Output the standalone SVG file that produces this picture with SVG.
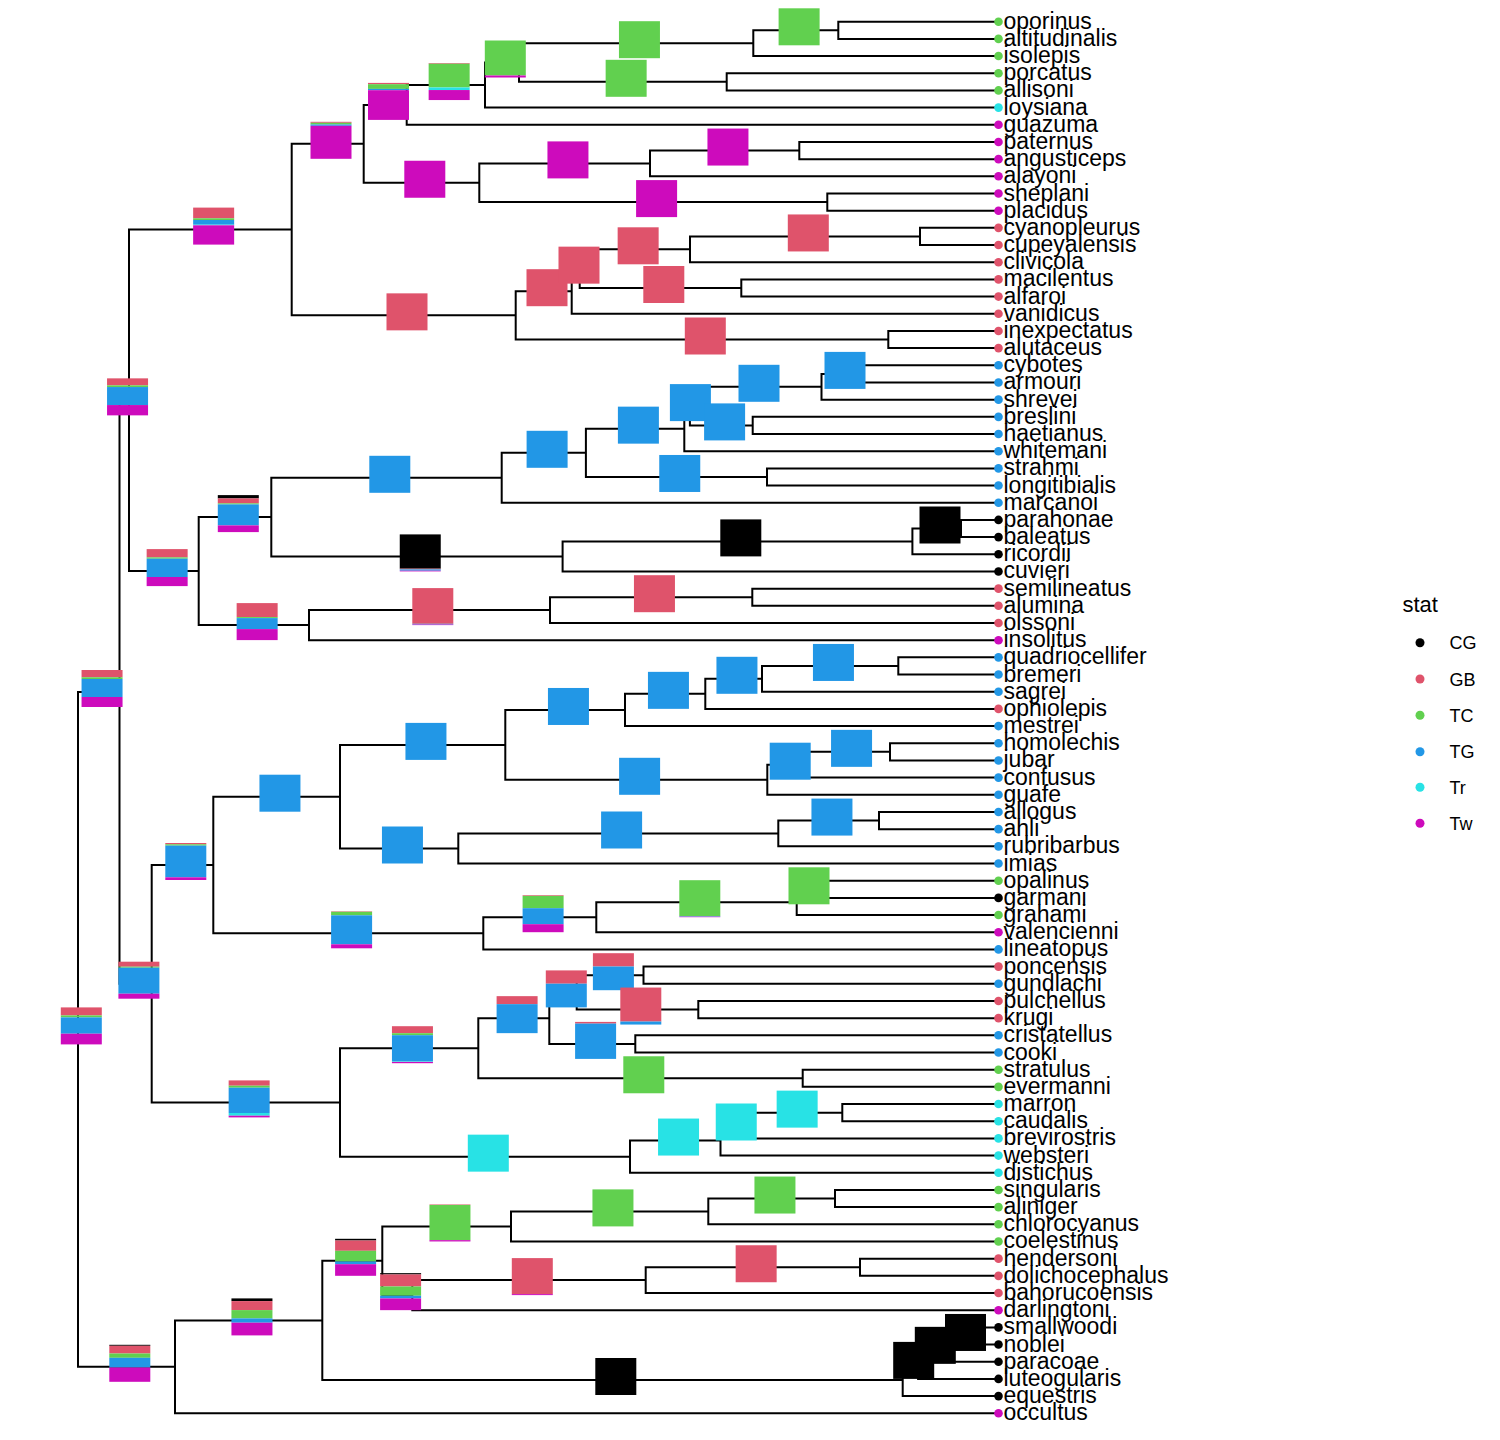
<svg xmlns="http://www.w3.org/2000/svg" width="1500" height="1440" viewBox="0 0 1500 1440">
<style>
.cg{fill:#000000}.gb{fill:#DF536B}.tc{fill:#61D04F}.tg{fill:#2297E6}.tr{fill:#28E2E5}.tw{fill:#CD0BBC}
.e{fill:none;stroke:#000;stroke-width:2;stroke-linejoin:miter}
.tip text{font-family:"Liberation Sans",Arial,sans-serif;font-size:23px;fill:#000}
.leg text{font-family:"Liberation Sans",Arial,sans-serif;fill:#000}
</style>
<rect width="1500" height="1440" fill="#fff"/>
<g id="connectors" class="e">
<path d="M119.5,692 H78 V1366.8 H175"/>
<path d="M129,400.35 H119.5 V983.7 H151.7"/>
<path d="M291.7,229.6 H129 V571.1 H198.7"/>
<path d="M363.7,143.8 H291.7 V315.35 H515.7"/>
<path d="M406.7,104.9 H363.7 V182.75 H479.3"/>
<path d="M485,85.05 H406.7 V124.78 H998"/>
<path d="M519,62.5 H485 V107.6 H998"/>
<path d="M753.3,43.2 H519 V81.8 H726.7"/>
<path d="M838.3,30.3 H753.3 V56.06 H998"/>
<path d="M998,21.7 H838.3 V38.88 H998"/>
<path d="M998,73.24 H726.7 V90.42 H998"/>
<path d="M650,163.4 H479.3 V202.1 H827.3"/>
<path d="M799.3,150.55 H650 V176.32 H998"/>
<path d="M998,141.96 H799.3 V159.14 H998"/>
<path d="M998,193.5 H827.3 V210.68 H998"/>
<path d="M571.7,291.2 H515.7 V339.5 H888.3"/>
<path d="M579.7,268.65 H571.7 V313.76 H998"/>
<path d="M690,249.3 H579.7 V288 H741.3"/>
<path d="M920,236.45 H690 V262.22 H998"/>
<path d="M998,227.86 H920 V245.04 H998"/>
<path d="M998,279.4 H741.3 V296.58 H998"/>
<path d="M998,330.94 H888.3 V348.12 H998"/>
<path d="M271.3,517.1 H198.7 V625.1 H309"/>
<path d="M501.7,477.8 H271.3 V556.4 H562.6"/>
<path d="M585.9,452.8 H501.7 V502.74 H998"/>
<path d="M684.3,428.65 H585.9 V476.97 H767"/>
<path d="M689.9,406.1 H684.3 V451.2 H998"/>
<path d="M821.5,386.8 H689.9 V425.4 H752.7"/>
<path d="M861.9,373.9 H821.5 V399.66 H998"/>
<path d="M998,365.3 H861.9 V382.48 H998"/>
<path d="M998,416.84 H752.7 V434.02 H998"/>
<path d="M998,468.38 H767 V485.56 H998"/>
<path d="M912.4,541.4 H562.6 V571.46 H998"/>
<path d="M961,528.5 H912.4 V554.28 H998"/>
<path d="M998,519.92 H961 V537.1 H998"/>
<path d="M550,610.1 H309 V640.18 H998"/>
<path d="M752.3,597.2 H550 V623 H998"/>
<path d="M998,588.64 H752.3 V605.82 H998"/>
<path d="M213.3,865 H151.7 V1102.4 H340"/>
<path d="M340,796.7 H213.3 V933.3 H483.3"/>
<path d="M505.3,744.9 H340 V848.5 H458.3"/>
<path d="M625,709.97 H505.3 V779.8 H767.3"/>
<path d="M705.3,693.85 H625 V726.08 H998"/>
<path d="M762,678.8 H705.3 V708.9 H998"/>
<path d="M898.3,665.95 H762 V691.72 H998"/>
<path d="M998,657.36 H898.3 V674.54 H998"/>
<path d="M806.5,764.7 H767.3 V794.8 H998"/>
<path d="M890,751.85 H806.5 V777.62 H998"/>
<path d="M998,743.26 H890 V760.44 H998"/>
<path d="M778.3,833.5 H458.3 V863.52 H998"/>
<path d="M879,820.57 H778.3 V846.34 H998"/>
<path d="M998,811.98 H879 V829.16 H998"/>
<path d="M596.3,917.2 H483.3 V949.42 H998"/>
<path d="M796.7,902.2 H596.3 V932.24 H998"/>
<path d="M814.7,889.3 H796.7 V915.06 H998"/>
<path d="M998,880.7 H814.7 V897.88 H998"/>
<path d="M478.3,1048.2 H340 V1156.65 H630"/>
<path d="M549.3,1018.15 H478.3 V1078.27 H802.7"/>
<path d="M576.7,992.4 H549.3 V1043.9 H635.3"/>
<path d="M643.5,975.2 H576.7 V1009.55 H698.3"/>
<path d="M998,966.6 H643.5 V983.78 H998"/>
<path d="M998,1000.96 H698.3 V1018.14 H998"/>
<path d="M998,1035.32 H635.3 V1052.5 H998"/>
<path d="M998,1069.68 H802.7 V1086.86 H998"/>
<path d="M720.5,1140.55 H630 V1172.76 H998"/>
<path d="M745.4,1125.5 H720.5 V1155.58 H998"/>
<path d="M842.3,1112.63 H745.4 V1138.4 H998"/>
<path d="M998,1104.04 H842.3 V1121.22 H998"/>
<path d="M322.3,1320.4 H175 V1413.28 H998"/>
<path d="M382.3,1260.8 H322.3 V1380 H902.7"/>
<path d="M511,1226.45 H382.3 V1295.15 H412.3"/>
<path d="M708.3,1211.4 H511 V1241.48 H998"/>
<path d="M835,1198.53 H708.3 V1224.3 H998"/>
<path d="M998,1189.94 H835 V1207.12 H998"/>
<path d="M645.7,1280.1 H412.3 V1310.2 H998"/>
<path d="M860,1267.25 H645.7 V1293.02 H998"/>
<path d="M998,1258.66 H860 V1275.84 H998"/>
<path d="M918.1,1363.9 H902.7 V1396.1 H998"/>
<path d="M945.9,1348.85 H918.1 V1378.92 H998"/>
<path d="M978.5,1335.97 H945.9 V1361.74 H998"/>
<path d="M998,1327.38 H978.5 V1344.56 H998"/>
</g>
<g id="nodes">
<g id="n_root" transform="translate(60.8,1007.4)"><rect class="gb" width="41" height="8"/><rect class="tc" y="8" width="41" height="2"/><rect class="tg" y="10" width="41" height="16.3"/><rect class="tw" y="26.3" width="41" height="10.7"/></g>
<g id="n_A" transform="translate(81.55,670)"><rect class="gb" width="41" height="7.3"/><rect class="tc" y="7.3" width="41" height="1.7"/><rect class="tg" y="9" width="41" height="18"/><rect class="tw" y="27" width="41" height="10"/></g>
<g id="n_A1" transform="translate(107.05,378.35)"><rect class="gb" width="41" height="7"/><rect class="tc" y="7" width="41" height="1.7"/><rect class="tg" y="8.7" width="41" height="18"/><rect class="tw" y="26.7" width="41" height="10.3"/></g>
<g id="n_T" transform="translate(193.15,207.6)"><rect class="gb" width="41" height="10.7"/><rect class="tc" y="10.7" width="41" height="1.7"/><rect class="tg" y="12.4" width="41" height="4.7"/><rect class="tr" y="17.1" width="41" height="0.6"/><rect class="tw" y="17.7" width="41" height="19.3"/></g>
<g id="n_T1" transform="translate(310.5,121.8)"><rect class="gb" width="41" height="1"/><rect class="tc" y="1" width="41" height="1.7"/><rect class="tg" y="2.7" width="41" height="1.3"/><rect class="tw" y="4" width="41" height="33"/></g>
<g id="n_T3" transform="translate(368,82.9)"><rect class="gb" width="41" height="1.3"/><rect class="tc" y="1.3" width="41" height="4.7"/><rect class="tg" y="6" width="41" height="1.3"/><rect class="tw" y="7.3" width="41" height="29.7"/></g>
<g id="n_X" transform="translate(428.65,63.05)"><rect class="gb" width="41" height="0.7"/><rect class="tc" y="0.7" width="41" height="23.7"/><rect class="tr" y="24.4" width="41" height="2.6"/><rect class="tw" y="27" width="41" height="10"/></g>
<g id="n_Y" transform="translate(484.8,40.5)"><rect class="tc" width="41" height="35"/><rect class="tw" y="35" width="41" height="2"/></g>
<g id="n_N123"><rect class="tc" x="618.95" y="21.2" width="41" height="37"/></g>
<g id="n_N12"><rect class="tc" x="778.6" y="8.3" width="41" height="37"/></g>
<g id="n_N45"><rect class="tc" x="605.65" y="59.8" width="41" height="37"/></g>
<g id="n_T4"><rect class="tw" x="404.3" y="160.75" width="41" height="37"/></g>
<g id="n_T5"><rect class="tw" x="547.45" y="141.4" width="41" height="37"/></g>
<g id="n_T7"><rect class="tw" x="707.45" y="128.55" width="41" height="37"/></g>
<g id="n_T6"><rect class="tw" x="636.1" y="180.1" width="41" height="37"/></g>
<g id="n_T2"><rect class="gb" x="386.5" y="293.35" width="41" height="37"/></g>
<g id="n_T8"><rect class="gb" x="526.5" y="269.2" width="41" height="37"/></g>
<g id="n_T11"><rect class="gb" x="558.5" y="246.65" width="41" height="37"/></g>
<g id="n_T12"><rect class="gb" x="617.65" y="227.3" width="41" height="37"/></g>
<g id="n_T14"><rect class="gb" x="787.8" y="214.45" width="41" height="37"/></g>
<g id="n_T13"><rect class="gb" x="643.3" y="266" width="41" height="37"/></g>
<g id="n_T9"><rect class="gb" x="684.8" y="317.5" width="41" height="37"/></g>
<g id="n_A3" transform="translate(146.65,549.1)"><rect class="gb" width="41" height="8.3"/><rect class="tc" y="8.3" width="41" height="1.3"/><rect class="tg" y="9.6" width="41" height="18.3"/><rect class="tw" y="27.9" width="41" height="9.1"/></g>
<g id="n_A4" transform="translate(217.8,495.1)"><rect class="cg" width="41" height="3.3"/><rect class="gb" y="3.3" width="41" height="5"/><rect class="tc" y="8.3" width="41" height="1"/><rect class="tg" y="9.3" width="41" height="21"/><rect class="tw" y="30.3" width="41" height="6.7"/></g>
<g id="n_A8"><rect class="tg" x="369.3" y="455.8" width="41" height="37"/></g>
<g id="n_A12"><rect class="tg" x="526.6" y="430.8" width="41" height="37"/></g>
<g id="n_A13"><rect class="tg" x="617.9" y="406.65" width="41" height="37"/></g>
<g id="n_A15"><rect class="tg" x="669.9" y="384.1" width="41" height="37"/></g>
<g id="n_A16"><rect class="tg" x="738.5" y="364.8" width="41" height="37"/></g>
<g id="n_A18"><rect class="tg" x="824.5" y="351.9" width="41" height="37"/></g>
<g id="n_A17"><rect class="tg" x="704.1" y="403.4" width="41" height="37"/></g>
<g id="n_A14"><rect class="tg" x="659.25" y="454.97" width="41" height="37"/></g>
<g id="n_A9" transform="translate(399.75,534.4)"><rect class="cg" width="41" height="34.3"/><rect class="gb" y="34.3" width="41" height="0.7"/><rect class="tg" y="35" width="41" height="1.3"/><rect class="tw" y="36.3" width="41" height="0.7"/></g>
<g id="n_A10"><rect class="cg" x="720.3" y="519.4" width="41" height="37"/></g>
<g id="n_A11"><rect class="cg" x="919.5" y="506.5" width="41" height="37"/></g>
<g id="n_A5" transform="translate(236.65,603.1)"><rect class="gb" width="41" height="14"/><rect class="tc" y="14" width="41" height="1"/><rect class="tg" y="15" width="41" height="11"/><rect class="tw" y="26" width="41" height="11"/></g>
<g id="n_A6" transform="translate(412.3,588.1)"><rect class="gb" width="41" height="35.7"/><rect class="tg" y="35.7" width="41" height="0.7"/><rect class="tw" y="36.4" width="41" height="0.6"/></g>
<g id="n_A7"><rect class="gb" x="633.95" y="575.2" width="41" height="37"/></g>
<g id="n_A2" transform="translate(118.4,961.7)"><rect class="gb" width="41" height="5"/><rect class="tc" y="5" width="41" height="1"/><rect class="tg" y="6" width="41" height="26"/><rect class="tw" y="32" width="41" height="5"/></g>
<g id="n_G1" transform="translate(165.3,843)"><rect class="gb" width="41" height="1.3"/><rect class="tc" y="1.3" width="41" height="1.3"/><rect class="tg" y="2.6" width="41" height="31.7"/><rect class="tw" y="34.3" width="41" height="2.7"/></g>
<g id="n_G2"><rect class="tg" x="259.45" y="774.7" width="41" height="37"/></g>
<g id="n_G4"><rect class="tg" x="405.45" y="722.9" width="41" height="37"/></g>
<g id="n_G6"><rect class="tg" x="547.95" y="687.97" width="41" height="37"/></g>
<g id="n_G8"><rect class="tg" x="647.95" y="671.85" width="41" height="37"/></g>
<g id="n_G9"><rect class="tg" x="716.45" y="656.8" width="41" height="37"/></g>
<g id="n_G10"><rect class="tg" x="812.95" y="643.95" width="41" height="37"/></g>
<g id="n_G7"><rect class="tg" x="619.1" y="757.8" width="41" height="37"/></g>
<g id="n_G11"><rect class="tg" x="769.7" y="742.7" width="41" height="37"/></g>
<g id="n_G12"><rect class="tg" x="831.05" y="729.85" width="41" height="37"/></g>
<g id="n_G5"><rect class="tg" x="381.95" y="826.5" width="41" height="37"/></g>
<g id="n_G13"><rect class="tg" x="601.1" y="811.5" width="41" height="37"/></g>
<g id="n_G14"><rect class="tg" x="811.45" y="798.57" width="41" height="37"/></g>
<g id="n_G3" transform="translate(331.1,911.3)"><rect class="gb" width="41" height="0.5"/><rect class="tc" y="0.5" width="41" height="3.5"/><rect class="tg" y="4" width="41" height="29"/><rect class="tw" y="33" width="41" height="4"/></g>
<g id="n_G15" transform="translate(522.6,895.2)"><rect class="gb" width="41" height="0.7"/><rect class="tc" y="0.7" width="41" height="12.3"/><rect class="tg" y="13" width="41" height="16"/><rect class="tw" y="29" width="41" height="8"/></g>
<g id="n_G16" transform="translate(679.3,880.2)"><rect class="tc" width="41" height="36"/><rect class="tg" y="36" width="41" height="0.5"/><rect class="tw" y="36.5" width="41" height="0.5"/></g>
<g id="n_G17"><rect class="tc" x="788.5" y="867.3" width="41" height="37"/></g>
<g id="n_H1" transform="translate(228.65,1080.4)"><rect class="gb" width="41" height="5.3"/><rect class="tc" y="5.3" width="41" height="2"/><rect class="tg" y="7.3" width="41" height="25.3"/><rect class="tr" y="32.6" width="41" height="2.7"/><rect class="tw" y="35.3" width="41" height="1.7"/></g>
<g id="n_H2" transform="translate(391.95,1026.2)"><rect class="gb" width="41" height="7"/><rect class="tc" y="7" width="41" height="2"/><rect class="tg" y="9" width="41" height="26"/><rect class="tr" y="35" width="41" height="0.7"/><rect class="tw" y="35.7" width="41" height="1.3"/></g>
<g id="n_H4" transform="translate(496.6,996.15)"><rect class="gb" width="41" height="8"/><rect class="tg" y="8" width="41" height="29"/></g>
<g id="n_H6" transform="translate(545.8,970.4)"><rect class="gb" width="41" height="13.3"/><rect class="tg" y="13.3" width="41" height="23.7"/></g>
<g id="n_H8" transform="translate(592.9,953.2)"><rect class="gb" width="41" height="13.3"/><rect class="tg" y="13.3" width="41" height="23.7"/></g>
<g id="n_H9" transform="translate(620.3,987.55)"><rect class="gb" width="41" height="34"/><rect class="tg" y="34" width="41" height="3"/></g>
<g id="n_H7" transform="translate(575.1,1021.9)"><rect class="gb" width="41" height="1.7"/><rect class="tg" y="1.7" width="41" height="35.3"/></g>
<g id="n_H5"><rect class="tc" x="623.3" y="1056.27" width="41" height="37"/></g>
<g id="n_H3"><rect class="tr" x="467.8" y="1134.65" width="41" height="37"/></g>
<g id="n_H10"><rect class="tr" x="658.05" y="1118.55" width="41" height="37"/></g>
<g id="n_H11"><rect class="tr" x="715.75" y="1103.5" width="41" height="37"/></g>
<g id="n_H12"><rect class="tr" x="776.65" y="1090.63" width="41" height="37"/></g>
<g id="n_B" transform="translate(109.3,1344.8)"><rect class="cg" width="41" height="1"/><rect class="gb" y="1" width="41" height="7.7"/><rect class="tc" y="8.7" width="41" height="4.3"/><rect class="tg" y="13" width="41" height="9.7"/><rect class="tw" y="22.7" width="41" height="14.3"/></g>
<g id="n_C1" transform="translate(231.45,1298.4)"><rect class="cg" width="41" height="2.7"/><rect class="gb" y="2.7" width="41" height="9"/><rect class="tc" y="11.7" width="41" height="8.3"/><rect class="tg" y="20" width="41" height="4.3"/><rect class="tw" y="24.3" width="41" height="12.7"/></g>
<g id="n_C2" transform="translate(335.1,1238.8)"><rect class="cg" width="41" height="1.7"/><rect class="gb" y="1.7" width="41" height="10.3"/><rect class="tc" y="12" width="41" height="10.7"/><rect class="tg" y="22.7" width="41" height="2.7"/><rect class="tw" y="25.4" width="41" height="11.6"/></g>
<g id="n_D1" transform="translate(429.45,1204.45)"><rect class="gb" width="41" height="0.5"/><rect class="tc" y="0.5" width="41" height="35.2"/><rect class="tw" y="35.7" width="41" height="1.3"/></g>
<g id="n_D2"><rect class="tc" x="592.45" y="1189.4" width="41" height="37"/></g>
<g id="n_D3"><rect class="tc" x="754.45" y="1176.53" width="41" height="37"/></g>
<g id="n_C3" transform="translate(380.1,1273.15)"><rect class="cg" width="41" height="1.3"/><rect class="gb" y="1.3" width="41" height="12"/><rect class="tc" y="13.3" width="41" height="9.3"/><rect class="tg" y="22.6" width="41" height="2.7"/><rect class="tw" y="25.3" width="41" height="11.7"/></g>
<g id="n_E1" transform="translate(511.8,1258.1)"><rect class="gb" width="41" height="36"/><rect class="tw" y="36" width="41" height="1"/></g>
<g id="n_E2"><rect class="gb" x="735.65" y="1245.25" width="41" height="37"/></g>
<g id="n_F1"><rect class="cg" x="595.3" y="1358" width="41" height="37"/></g>
<g id="n_F2"><rect class="cg" x="893.2" y="1341.9" width="41" height="37"/></g>
<g id="n_F3"><rect class="cg" x="914.8" y="1326.85" width="41" height="37"/></g>
<g id="n_F4"><rect class="cg" x="945" y="1313.97" width="41" height="37"/></g>
</g>
<g id="tips" class="tip">
<g id="t_oporinus"><circle class="tc" cx="998.5" cy="21.7" r="4.3"/><text x="1003.5" y="28.7">oporinus</text></g>
<g id="t_altitudinalis"><circle class="tc" cx="998.5" cy="38.88" r="4.3"/><text x="1003.5" y="45.88">altitudinalis</text></g>
<g id="t_isolepis"><circle class="tc" cx="998.5" cy="56.06" r="4.3"/><text x="1003.5" y="63.06">isolepis</text></g>
<g id="t_porcatus"><circle class="tc" cx="998.5" cy="73.24" r="4.3"/><text x="1003.5" y="80.24">porcatus</text></g>
<g id="t_allisoni"><circle class="tc" cx="998.5" cy="90.42" r="4.3"/><text x="1003.5" y="97.42">allisoni</text></g>
<g id="t_loysiana"><circle class="tr" cx="998.5" cy="107.6" r="4.3"/><text x="1003.5" y="114.6">loysiana</text></g>
<g id="t_guazuma"><circle class="tw" cx="998.5" cy="124.78" r="4.3"/><text x="1003.5" y="131.78">guazuma</text></g>
<g id="t_paternus"><circle class="tw" cx="998.5" cy="141.96" r="4.3"/><text x="1003.5" y="148.96">paternus</text></g>
<g id="t_angusticeps"><circle class="tw" cx="998.5" cy="159.14" r="4.3"/><text x="1003.5" y="166.14">angusticeps</text></g>
<g id="t_alayoni"><circle class="tw" cx="998.5" cy="176.32" r="4.3"/><text x="1003.5" y="183.32">alayoni</text></g>
<g id="t_sheplani"><circle class="tw" cx="998.5" cy="193.5" r="4.3"/><text x="1003.5" y="200.5">sheplani</text></g>
<g id="t_placidus"><circle class="tw" cx="998.5" cy="210.68" r="4.3"/><text x="1003.5" y="217.68">placidus</text></g>
<g id="t_cyanopleurus"><circle class="gb" cx="998.5" cy="227.86" r="4.3"/><text x="1003.5" y="234.86">cyanopleurus</text></g>
<g id="t_cupeyalensis"><circle class="gb" cx="998.5" cy="245.04" r="4.3"/><text x="1003.5" y="252.04">cupeyalensis</text></g>
<g id="t_clivicola"><circle class="gb" cx="998.5" cy="262.22" r="4.3"/><text x="1003.5" y="269.22">clivicola</text></g>
<g id="t_macilentus"><circle class="gb" cx="998.5" cy="279.4" r="4.3"/><text x="1003.5" y="286.4">macilentus</text></g>
<g id="t_alfaroi"><circle class="gb" cx="998.5" cy="296.58" r="4.3"/><text x="1003.5" y="303.58">alfaroi</text></g>
<g id="t_vanidicus"><circle class="gb" cx="998.5" cy="313.76" r="4.3"/><text x="1003.5" y="320.76">vanidicus</text></g>
<g id="t_inexpectatus"><circle class="gb" cx="998.5" cy="330.94" r="4.3"/><text x="1003.5" y="337.94">inexpectatus</text></g>
<g id="t_alutaceus"><circle class="gb" cx="998.5" cy="348.12" r="4.3"/><text x="1003.5" y="355.12">alutaceus</text></g>
<g id="t_cybotes"><circle class="tg" cx="998.5" cy="365.3" r="4.3"/><text x="1003.5" y="372.3">cybotes</text></g>
<g id="t_armouri"><circle class="tg" cx="998.5" cy="382.48" r="4.3"/><text x="1003.5" y="389.48">armouri</text></g>
<g id="t_shrevei"><circle class="tg" cx="998.5" cy="399.66" r="4.3"/><text x="1003.5" y="406.66">shrevei</text></g>
<g id="t_breslini"><circle class="tg" cx="998.5" cy="416.84" r="4.3"/><text x="1003.5" y="423.84">breslini</text></g>
<g id="t_haetianus"><circle class="tg" cx="998.5" cy="434.02" r="4.3"/><text x="1003.5" y="441.02">haetianus</text></g>
<g id="t_whitemani"><circle class="tg" cx="998.5" cy="451.2" r="4.3"/><text x="1003.5" y="458.2">whitemani</text></g>
<g id="t_strahmi"><circle class="tg" cx="998.5" cy="468.38" r="4.3"/><text x="1003.5" y="475.38">strahmi</text></g>
<g id="t_longitibialis"><circle class="tg" cx="998.5" cy="485.56" r="4.3"/><text x="1003.5" y="492.56">longitibialis</text></g>
<g id="t_marcanoi"><circle class="tg" cx="998.5" cy="502.74" r="4.3"/><text x="1003.5" y="509.74">marcanoi</text></g>
<g id="t_parahonae"><circle class="cg" cx="998.5" cy="519.92" r="4.3"/><text x="1003.5" y="526.92">parahonae</text></g>
<g id="t_baleatus"><circle class="cg" cx="998.5" cy="537.1" r="4.3"/><text x="1003.5" y="544.1">baleatus</text></g>
<g id="t_ricordii"><circle class="cg" cx="998.5" cy="554.28" r="4.3"/><text x="1003.5" y="561.28">ricordii</text></g>
<g id="t_cuvieri"><circle class="cg" cx="998.5" cy="571.46" r="4.3"/><text x="1003.5" y="578.46">cuvieri</text></g>
<g id="t_semilineatus"><circle class="gb" cx="998.5" cy="588.64" r="4.3"/><text x="1003.5" y="595.64">semilineatus</text></g>
<g id="t_alumina"><circle class="gb" cx="998.5" cy="605.82" r="4.3"/><text x="1003.5" y="612.82">alumina</text></g>
<g id="t_olssoni"><circle class="gb" cx="998.5" cy="623" r="4.3"/><text x="1003.5" y="630">olssoni</text></g>
<g id="t_insolitus"><circle class="tw" cx="998.5" cy="640.18" r="4.3"/><text x="1003.5" y="647.18">insolitus</text></g>
<g id="t_quadriocellifer"><circle class="tg" cx="998.5" cy="657.36" r="4.3"/><text x="1003.5" y="664.36">quadriocellifer</text></g>
<g id="t_bremeri"><circle class="tg" cx="998.5" cy="674.54" r="4.3"/><text x="1003.5" y="681.54">bremeri</text></g>
<g id="t_sagrei"><circle class="tg" cx="998.5" cy="691.72" r="4.3"/><text x="1003.5" y="698.72">sagrei</text></g>
<g id="t_ophiolepis"><circle class="gb" cx="998.5" cy="708.9" r="4.3"/><text x="1003.5" y="715.9">ophiolepis</text></g>
<g id="t_mestrei"><circle class="tg" cx="998.5" cy="726.08" r="4.3"/><text x="1003.5" y="733.08">mestrei</text></g>
<g id="t_homolechis"><circle class="tg" cx="998.5" cy="743.26" r="4.3"/><text x="1003.5" y="750.26">homolechis</text></g>
<g id="t_jubar"><circle class="tg" cx="998.5" cy="760.44" r="4.3"/><text x="1003.5" y="767.44">jubar</text></g>
<g id="t_confusus"><circle class="tg" cx="998.5" cy="777.62" r="4.3"/><text x="1003.5" y="784.62">confusus</text></g>
<g id="t_guafe"><circle class="tg" cx="998.5" cy="794.8" r="4.3"/><text x="1003.5" y="801.8">guafe</text></g>
<g id="t_allogus"><circle class="tg" cx="998.5" cy="811.98" r="4.3"/><text x="1003.5" y="818.98">allogus</text></g>
<g id="t_ahli"><circle class="tg" cx="998.5" cy="829.16" r="4.3"/><text x="1003.5" y="836.16">ahli</text></g>
<g id="t_rubribarbus"><circle class="tg" cx="998.5" cy="846.34" r="4.3"/><text x="1003.5" y="853.34">rubribarbus</text></g>
<g id="t_imias"><circle class="tg" cx="998.5" cy="863.52" r="4.3"/><text x="1003.5" y="870.52">imias</text></g>
<g id="t_opalinus"><circle class="tc" cx="998.5" cy="880.7" r="4.3"/><text x="1003.5" y="887.7">opalinus</text></g>
<g id="t_garmani"><circle class="cg" cx="998.5" cy="897.88" r="4.3"/><text x="1003.5" y="904.88">garmani</text></g>
<g id="t_grahami"><circle class="tc" cx="998.5" cy="915.06" r="4.3"/><text x="1003.5" y="922.06">grahami</text></g>
<g id="t_valencienni"><circle class="tw" cx="998.5" cy="932.24" r="4.3"/><text x="1003.5" y="939.24">valencienni</text></g>
<g id="t_lineatopus"><circle class="tg" cx="998.5" cy="949.42" r="4.3"/><text x="1003.5" y="956.42">lineatopus</text></g>
<g id="t_poncensis"><circle class="gb" cx="998.5" cy="966.6" r="4.3"/><text x="1003.5" y="973.6">poncensis</text></g>
<g id="t_gundlachi"><circle class="tg" cx="998.5" cy="983.78" r="4.3"/><text x="1003.5" y="990.78">gundlachi</text></g>
<g id="t_pulchellus"><circle class="gb" cx="998.5" cy="1000.96" r="4.3"/><text x="1003.5" y="1007.96">pulchellus</text></g>
<g id="t_krugi"><circle class="gb" cx="998.5" cy="1018.14" r="4.3"/><text x="1003.5" y="1025.14">krugi</text></g>
<g id="t_cristatellus"><circle class="tg" cx="998.5" cy="1035.32" r="4.3"/><text x="1003.5" y="1042.32">cristatellus</text></g>
<g id="t_cooki"><circle class="tg" cx="998.5" cy="1052.5" r="4.3"/><text x="1003.5" y="1059.5">cooki</text></g>
<g id="t_stratulus"><circle class="tc" cx="998.5" cy="1069.68" r="4.3"/><text x="1003.5" y="1076.68">stratulus</text></g>
<g id="t_evermanni"><circle class="tc" cx="998.5" cy="1086.86" r="4.3"/><text x="1003.5" y="1093.86">evermanni</text></g>
<g id="t_marron"><circle class="tr" cx="998.5" cy="1104.04" r="4.3"/><text x="1003.5" y="1111.04">marron</text></g>
<g id="t_caudalis"><circle class="tr" cx="998.5" cy="1121.22" r="4.3"/><text x="1003.5" y="1128.22">caudalis</text></g>
<g id="t_brevirostris"><circle class="tr" cx="998.5" cy="1138.4" r="4.3"/><text x="1003.5" y="1145.4">brevirostris</text></g>
<g id="t_websteri"><circle class="tr" cx="998.5" cy="1155.58" r="4.3"/><text x="1003.5" y="1162.58">websteri</text></g>
<g id="t_distichus"><circle class="tr" cx="998.5" cy="1172.76" r="4.3"/><text x="1003.5" y="1179.76">distichus</text></g>
<g id="t_singularis"><circle class="tc" cx="998.5" cy="1189.94" r="4.3"/><text x="1003.5" y="1196.94">singularis</text></g>
<g id="t_aliniger"><circle class="tc" cx="998.5" cy="1207.12" r="4.3"/><text x="1003.5" y="1214.12">aliniger</text></g>
<g id="t_chlorocyanus"><circle class="tc" cx="998.5" cy="1224.3" r="4.3"/><text x="1003.5" y="1231.3">chlorocyanus</text></g>
<g id="t_coelestinus"><circle class="tc" cx="998.5" cy="1241.48" r="4.3"/><text x="1003.5" y="1248.48">coelestinus</text></g>
<g id="t_hendersoni"><circle class="gb" cx="998.5" cy="1258.66" r="4.3"/><text x="1003.5" y="1265.66">hendersoni</text></g>
<g id="t_dolichocephalus"><circle class="gb" cx="998.5" cy="1275.84" r="4.3"/><text x="1003.5" y="1282.84">dolichocephalus</text></g>
<g id="t_bahorucoensis"><circle class="gb" cx="998.5" cy="1293.02" r="4.3"/><text x="1003.5" y="1300.02">bahorucoensis</text></g>
<g id="t_darlingtoni"><circle class="tw" cx="998.5" cy="1310.2" r="4.3"/><text x="1003.5" y="1317.2">darlingtoni</text></g>
<g id="t_smallwoodi"><circle class="cg" cx="998.5" cy="1327.38" r="4.3"/><text x="1003.5" y="1334.38">smallwoodi</text></g>
<g id="t_noblei"><circle class="cg" cx="998.5" cy="1344.56" r="4.3"/><text x="1003.5" y="1351.56">noblei</text></g>
<g id="t_paracoae"><circle class="cg" cx="998.5" cy="1361.74" r="4.3"/><text x="1003.5" y="1368.74">paracoae</text></g>
<g id="t_luteogularis"><circle class="cg" cx="998.5" cy="1378.92" r="4.3"/><text x="1003.5" y="1385.92">luteogularis</text></g>
<g id="t_equestris"><circle class="cg" cx="998.5" cy="1396.1" r="4.3"/><text x="1003.5" y="1403.1">equestris</text></g>
<g id="t_occultus"><circle class="tw" cx="998.5" cy="1413.28" r="4.3"/><text x="1003.5" y="1420.28">occultus</text></g>
</g>
<g id="legend" class="leg">
<text x="1402.5" y="611.5" font-size="22">stat</text>
<circle class="cg" cx="1420" cy="642.7" r="4.5"/><text x="1449.5" y="649.2" font-size="18">CG</text>
<circle class="gb" cx="1420" cy="679" r="4.5"/><text x="1449.5" y="685.5" font-size="18">GB</text>
<circle class="tc" cx="1420" cy="715.3" r="4.5"/><text x="1449.5" y="721.8" font-size="18">TC</text>
<circle class="tg" cx="1420" cy="751.7" r="4.5"/><text x="1449.5" y="758.2" font-size="18">TG</text>
<circle class="tr" cx="1420" cy="787.3" r="4.5"/><text x="1449.5" y="793.8" font-size="18">Tr</text>
<circle class="tw" cx="1420" cy="823.3" r="4.5"/><text x="1449.5" y="829.8" font-size="18">Tw</text>
</g>
</svg>
